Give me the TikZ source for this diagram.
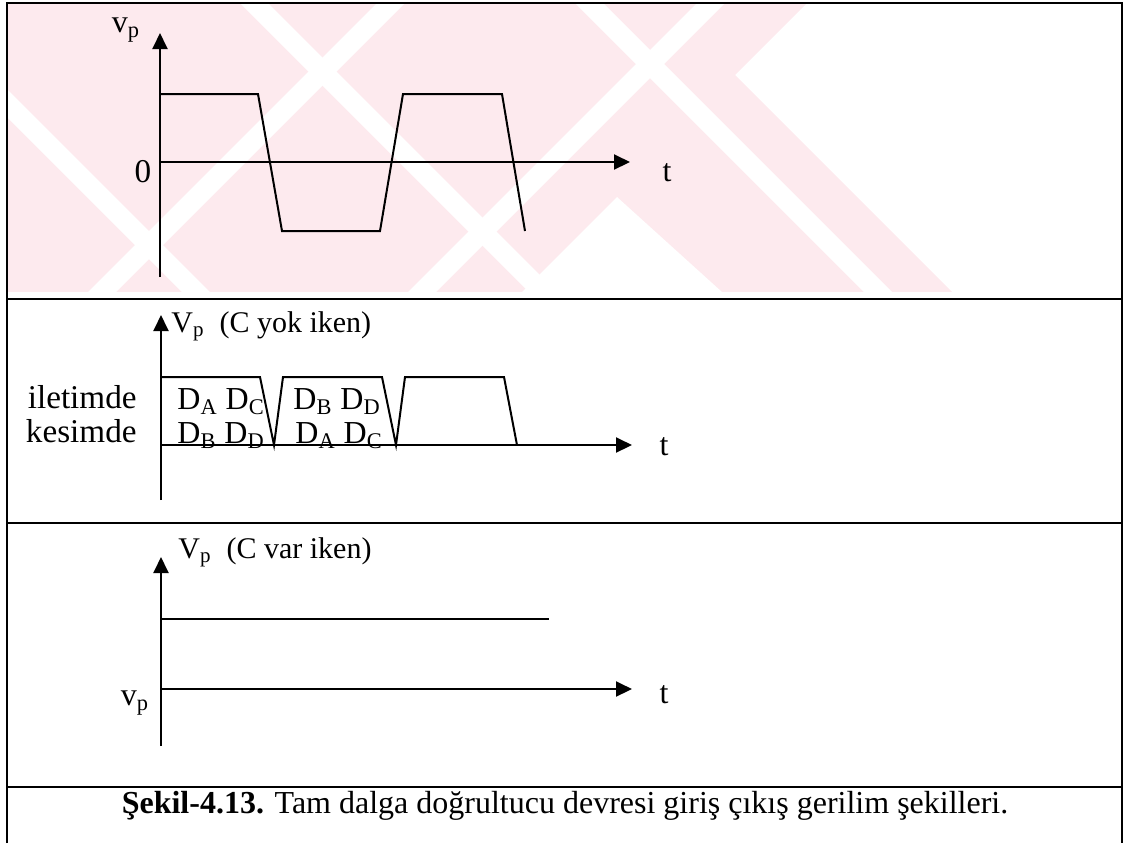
\documentclass[tikz,border=0pt]{standalone}
\usepackage{fontspec}
\setmainfont{Liberation Serif}
\usetikzlibrary{arrows.meta,positioning}
\definecolor{wmpink}{HTML}{FDEAEE}

\tikzset{
  axis/.style={line width=1pt,-{Triangle[width=7.5pt,length=8pt]}},
  wave/.style={line width=1pt},
  frame/.style={line width=1pt},
  lbl/.style={font=\fontsize{16}{19}\selectfont,inner sep=0pt},
  toplbl/.style={font=\fontsize{15}{18}\selectfont,inner sep=0pt},
  sidelbl/.style={font=\fontsize{16.6}{20}\selectfont,inner sep=0pt},
}

\begin{document}
\begin{tikzpicture}[x=0.5pt,y=-0.5pt]
\useasboundingbox (0,0) rectangle (1139,843);

% watermark behind the first plot
\begin{scope}
  \clip (7,3) -- (807,3) -- (735,75) -- (952,292) -- (7,292) -- cycle;
  \fill[wmpink] (7,3) rectangle (1122,292);
  % white 45 degree stripes
  \foreach \a in {-110,237,572}
    \fill[white] (\a+3,3) -- (\a+31,3) -- (\a+320,292) -- (\a+292,292) -- cycle;
  \foreach \a in {380,700}
    \fill[white] (\a-3,3) -- (\a+25,3) -- (\a-264,292) -- (\a-292,292) -- cycle;
  \fill[white] (617,197) -- (522,292) -- (722,292) -- cycle;
\end{scope}

% frame and separators
\draw[frame] (7,843) -- (7,3) -- (1122,3) -- (1122,843);
\foreach \ysep in {299,523,787}
  \draw[frame] (7,\ysep) -- (1122,\ysep);

% input voltage
\draw[axis] (160,277) -- (160,33);
\draw[axis] (160,162) -- (630,162);
\draw[wave] (160,94) -- (258,94) -- (282,231) -- (380,231) -- (403,94) -- (502,94) -- (525,231);
\node[lbl,anchor=base] (vin) at (126,32) {v\textsubscript{p}};
\node[sidelbl,anchor=base] (zero) at (143,182) {0};
\node[lbl,anchor=base] (tin) at (667,181) {t};

% output without capacitor
\draw[axis] (161,500) -- (161,315);
\draw[axis] (161,445) -- (632,445);
\draw[wave] (161,377) -- (260,377) -- (274,445) -- (283,377) -- (382,377) -- (396,445)
  -- (405,377) -- (504,377) -- (517,445);
\node[toplbl,anchor=base west] (vyok) at (171,332) {V\textsubscript{p}\ \ (C yok iken)};
\node[sidelbl,anchor=base east] (ilet) at (137,408) {iletimde};
\node[sidelbl,anchor=base east] (kes) at (137,442) {kesimde};
\node[lbl,anchor=base west] (on1) at (177,409) {D\textsubscript{A} D\textsubscript{C}};
\node[lbl,anchor=base west] (on2) at (293,409) {D\textsubscript{B} D\textsubscript{D}};
\node[lbl,anchor=base west] (off1) at (177,443) {D\textsubscript{B} D\textsubscript{D}};
\node[lbl,anchor=base west] (off2) at (295,443) {D\textsubscript{A} D\textsubscript{C}};
\node[lbl,anchor=base] (tyok) at (664,455) {t};

% output with capacitor
\draw[axis] (161,746) -- (161,557);
\draw[axis] (161,689) -- (632,689);
\draw[wave] (161,619) -- (549,619);
\node[toplbl,anchor=base west] (vvar) at (178,558) {V\textsubscript{p}\ \ (C var iken)};
\node[lbl,anchor=base] (vout) at (135,705) {v\textsubscript{p}};
\node[lbl,anchor=base] (tvar) at (664,703) {t};

% caption
\node[lbl,anchor=base] (cap) at (565,813)
  {\textbf{Şekil-4.13.} Tam dalga doğrultucu devresi giriş çıkış gerilim şekilleri.};
\end{tikzpicture}
\end{document}
